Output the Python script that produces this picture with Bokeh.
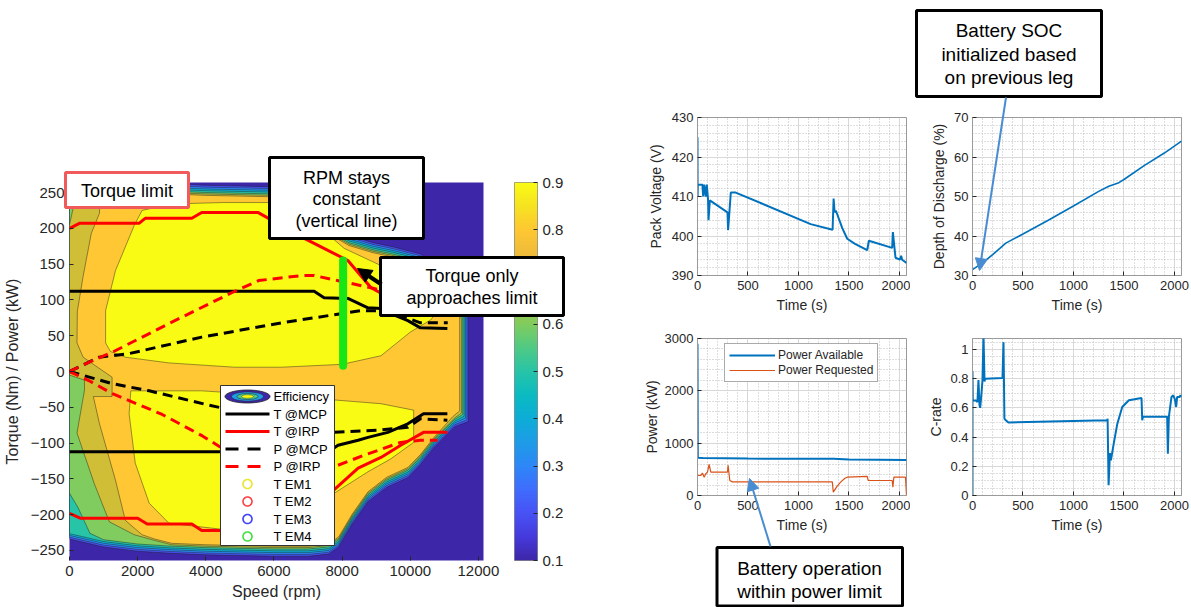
import math
from bokeh.plotting import figure
from bokeh.models import (Range1d, FixedTicker, LinearColorMapper, ColorBar, Label,
                          BoxAnnotation, Arrow, NormalHead, PolyAnnotation, Legend, LegendItem,
                          CustomJSTickFormatter, GridBox)
from bokeh.layouts import row, column
from bokeh.embed import file_html
from bokeh.resources import INLINE

FONT = "Liberation Sans"
TXT = "#262626"
PAGE_W, PAGE_H = 1191, 607

# ---------------- efficiency map : axes ----------------
SPEED_RANGE = (0, 12150)
TORQUE_RANGE = (-264, 264)
SPEED_TICKS = [0, 2000, 4000, 6000, 8000, 10000, 12000]
TORQUE_TICKS = [-250, -200, -150, -100, -50, 0, 50, 100, 150, 200, 250]
EFF_TICKS = [0.1, 0.2, 0.3, 0.4, 0.5, 0.6, 0.7, 0.8, 0.9]

# ---------------- efficiency map : contour regions (speed rpm, torque Nm) ----------------
ENV_TOP_SPEED = [0, 1000, 2000, 3000, 4000, 5000, 6000, 6600, 7200, 7770, 8200, 8900, 9500, 10300, 10900, 11400, 11700]
ENV_TOP_TORQUE = [262, 262, 262, 262, 260, 259, 258, 252, 236, 202, 190, 180, 174, 164, 140, 110, 85]
ENV_BOT_SPEED = [0, 1000, 2000, 3000, 4000, 5000, 6000, 7000, 7600, 7900, 8300, 8760, 9300, 9930, 10300, 10700, 11300, 11700]
ENV_BOT_TORQUE = [-234, -245, -251, -254, -256, -257, -258, -258, -255, -245, -213, -182, -162, -148, -130, -106, -77, -70]

BAND_LEVELS = [0.2, 0.3, 0.4, 0.5]
BAND_INSET_TORQUE = [0, 2.5, 5, 7.5]
BAND_INSET_SPEED = [0, 40, 80, 120]

GREEN_INSET = (10, 160)
GREEN_LEFT_SPEED = [600, 250, 0]
GREEN_LEFT_TORQUE = [-226, -190, -170]

OLIVE_INSET = (12, 200)
OLIVE_LEFT_SPEED = [2500, 1900, 1170, 730, 220, 440, 440, 0, 0, 200]
OLIVE_LEFT_TORQUE = [-236, -228, -210, -157, -86, -26, -12, -5, 205, 248]

ORANGE_SPEED = [900, 2000, 3000, 4000, 5000, 6000, 6600, 7200, 7770, 8200, 8900, 9500, 10300, 10900, 11400, 11450,
                11450, 11250, 10700, 10300, 9930, 9300, 8760, 8300, 7900, 7600, 7000, 6000, 5000, 4000, 3000,
                2500, 2130, 1640, 1350, 880, 700, 1250, 1250, 400, 220, 230, 400, 640, 880]
ORANGE_TORQUE = [246, 248, 248, 246, 245, 244, 238, 222, 188, 176, 166, 160, 150, 126, 96, 80,
                 -55, -63, -92, -116, -134, -148, -168, -199, -231, -241, -244, -244, -243, -242, -240,
                 -234, -228, -208, -152, -73, -35, -35, -8, 20, 40, 84, 133, 193, 221]

YELLOW_UP_SPEED = [1060, 1060, 1350, 1900, 2130, 3000, 4500, 6000, 6900, 7500, 8060, 8600, 9140, 10000, 10600,
                   10800, 10600, 10000, 9140, 8000, 6220, 4850, 2920, 1640, 1200]
YELLOW_UP_TORQUE = [40, 85, 141, 204, 225, 234, 236, 236, 215, 195, 172, 160, 148, 120, 96,
                    85, 72, 55, 22, 10, 6, 6, 12, 20, 28]
YELLOW_LO_SPEED = [1800, 3880, 6800, 9140, 10100, 10100, 9430, 8760, 7770, 7000, 6000, 4400, 2920, 2340, 1930, 1750]
YELLOW_LO_TORQUE = [-27, -27, -36, -45, -54, -99, -122, -140, -170, -195, -212, -220, -212, -184, -128, -59]

# ---------------- efficiency map : operating lines ----------------
T_MCP_UP_SPEED = [0, 7180, 7470, 8170, 8760, 9140, 9430, 9930, 10300, 11090]
T_MCP_UP = [112, 112, 103, 102, 89, 88, 81, 71, 61, 60]
T_MCP_LO_SPEED = [0, 7600, 7880, 8470, 8760, 9340, 9930, 10390, 11090]
T_MCP_LO = [-112, -112, -103, -96, -92, -85, -73, -59, -59]
T_IRP_UP_SPEED = [0, 290, 2040, 2220, 3590, 3880, 5540, 6890, 8170, 8850, 9500, 10300, 11000]
T_IRP_UP = [200, 207, 207, 214, 214, 222, 222, 186, 155, 117, 100, 85, 85]
T_IRP_LO_SPEED = [0, 330, 2000, 2280, 3590, 3880, 5300, 6500, 7770, 8470, 9140, 9720, 10390, 11090]
T_IRP_LO = [-198, -205, -205, -213, -213, -222, -222, -198, -165, -135, -120, -103, -85, -85]
P_MCP_UP_SPEED = [0, 870, 1750, 3880, 6220, 8550, 9300, 10300, 11100]
P_MCP_UP = [0, 20, 25, 48, 68, 85, 85, 68, 68]
P_IRP_UP_SPEED = [0, 670, 1260, 2920, 4760, 5550, 6800, 7180, 8850, 9600]
P_IRP_UP = [0, 15, 27, 67, 110, 127, 134, 134, 117, 108]
P_MCP_LO_SPEED = [0, 1260, 2340, 4090, 7770, 9050, 9930, 10300, 11090]
P_MCP_LO = [0, -17, -27, -47, -85, -82, -78, -66, -68]
P_IRP_LO_SPEED = [0, 580, 1260, 2720, 3900, 4410, 7880, 8640, 9720, 10300, 10800]
P_IRP_LO = [0, -13, -31, -60, -90, -105, -131, -117, -99, -96, -96]
RPM_CONST_SPEED = 8030
RPM_CONST_TORQUE = [8, 155]

LEGEND_LABELS = ["Efficiency", "T @MCP", "T @IRP", "P @MCP", "P @IRP", "T EM1", "T EM2", "T EM3", "T EM4"]

# ---------------- battery time series ----------------
T_MAX = 2070
TIME_TICKS = [0, 500, 1000, 1500, 2000]
TIME_MINOR = [t for t in range(0, 2100, 100) if t % 500]

V_TIME = [0, 1, 3, 49, 56, 66, 82, 92, 105, 109, 122, 297, 303, 330, 379, 1121, 1338, 1348, 1358, 1371,
          1434, 1483, 1560, 1681, 1697, 1928, 1935, 1961, 2004, 2017, 2027, 2070]
V_PACK = [425, 410, 413, 413, 410, 413, 410, 413, 409, 404, 409, 406, 401.5, 411, 411, 403, 401.6, 409.5, 406, 406.4,
          402, 399.3, 398, 396.4, 398.8, 397, 401, 394.5, 394, 395, 394, 393.2]
V_TICKS = [390, 400, 410, 420, 430]

DOD_TIME = [0, 100, 200, 330, 500, 750, 1000, 1250, 1350, 1450, 1500, 1700, 1900, 2070]
DOD = [31.5, 33.2, 35.3, 38.2, 40.5, 44.0, 47.6, 51.3, 52.6, 53.5, 54.3, 57.8, 61.0, 64.0]
DOD_TICKS = [30, 40, 50, 60, 70]

PA_TIME = [0, 3, 50, 500, 1000, 1350, 1500, 2070]
P_AVAIL = [2900, 720, 715, 705, 700, 700, 690, 680]
PR_TIME = [0, 33, 49, 66, 82, 99, 115, 132, 297, 303, 320, 346, 1335, 1345, 1380, 1420, 1460, 1483, 1681, 1691,
           1928, 1935, 1945, 2060, 2070]
P_REQ = [383, 383, 428, 350, 415, 447, 594, 447, 447, 575, 287, 260, 260, 64, 170, 260, 330, 350, 364, 287,
         287, 160, 350, 350, 0]
P_TICKS = [0, 1000, 2000, 3000]

C_TIME = [0, 0, 3, 33, 49, 59, 69, 76, 86, 99, 109, 119, 125, 297, 307, 316, 330, 356, 1335, 1338,
          1348, 1361, 1371, 1400, 1434, 1483, 1549, 1674, 1681, 1688, 1928, 1935, 1945, 1971, 1988, 2004,
          2017, 2027, 2050, 2060, 2070]
C_RATE = [0, 0.85, 0.65, 0.65, 0.64, 0.79, 0.62, 0.60, 0.675, 0.79, 1.10, 0.78, 0.80, 0.805, 1.05, 0.526,
          0.515, 0.50, 0.515, 0.526, 0.07, 0.29, 0.24, 0.36, 0.49, 0.606, 0.652, 0.668, 0.515, 0.54, 0.54,
          0.286, 0.54, 0.675, 0.686, 0.66, 0.606, 0.675, 0.675, 0.686, 0.675]
C_TICKS = [0, 0.2, 0.4, 0.6, 0.8, 1]

# ---------------- colours ----------------
PARULA = [
    (0.000, (0.2422, 0.1504, 0.6603)), (0.0625, (0.2717, 0.2298, 0.8664)),
    (0.125, (0.2810, 0.3228, 0.9579)), (0.1875, (0.2475, 0.4263, 0.9955)),
    (0.250, (0.1801, 0.5302, 0.9687)), (0.3125, (0.1134, 0.6122, 0.9074)),
    (0.375, (0.0518, 0.6784, 0.8406)), (0.4375, (0.0402, 0.7321, 0.7589)),
    (0.500, (0.1520, 0.7680, 0.6560)), (0.5625, (0.3110, 0.7900, 0.5200)),
    (0.625, (0.5000, 0.8000, 0.3700)), (0.6875, (0.6700, 0.7800, 0.2600)),
    (0.750, (0.8200, 0.7450, 0.2150)), (0.8125, (0.9400, 0.7350, 0.2300)),
    (0.875, (0.9950, 0.7800, 0.2000)), (0.9375, (0.9650, 0.8850, 0.1300)),
    (1.000, (0.9769, 0.9839, 0.0805)),
]


def parula(n):
    n = min(max(n, 0.0), 1.0)
    for (a, ca), (b, cb) in zip(PARULA[:-1], PARULA[1:]):
        if n <= b:
            f = (n - a) / (b - a) if b > a else 0
            c = [ca[i] + f * (cb[i] - ca[i]) for i in range(3)]
            return "#%02x%02x%02x" % tuple(int(round(v * 255)) for v in c)
    c = PARULA[-1][1]
    return "#%02x%02x%02x" % tuple(int(round(v * 255)) for v in c)


def level_color(lv):
    return parula((lv - 0.1) / 0.8)


# ---------------- helpers ----------------
def inset_poly(dt, ds, top_min=None, bot_min=None):
    top = [(s, t - dt) for s, t in zip(ENV_TOP_SPEED[:-1], ENV_TOP_TORQUE[:-1])]
    if top_min is not None:
        top = [pt for pt in top if pt[0] >= top_min]
    right = [(ENV_TOP_SPEED[-1] - ds, ENV_TOP_TORQUE[-1] - dt), (ENV_BOT_SPEED[-1] - ds, ENV_BOT_TORQUE[-1] + dt)]
    bot = [(s, t + dt) for s, t in zip(ENV_BOT_SPEED[-2::-1], ENV_BOT_TORQUE[-2::-1])]
    if bot_min is not None:
        bot = [pt for pt in bot if pt[0] >= bot_min]
    return top + right + bot


def style_axis(ax, tick_size, label_size, tick_standoff, label_standoff):
    ax.axis_label_text_font = FONT
    ax.axis_label_text_font_size = f"{label_size}px"
    ax.axis_label_text_font_style = "normal"
    ax.axis_label_text_color = TXT
    ax.axis_label_standoff = label_standoff
    ax.major_label_text_font = FONT
    ax.major_label_text_font_size = f"{tick_size}px"
    ax.major_label_text_color = TXT
    ax.major_label_standoff = tick_standoff
    ax.major_tick_in = 4
    ax.major_tick_out = 0
    ax.minor_tick_in = 0
    ax.minor_tick_out = 0
    ax.major_tick_line_color = TXT


def fr_text(fig, fl, fb, X, Y, text, size, align="center", color="black"):
    fig.add_layout(Label(x=X - fl, y=fb - Y, x_units="screen", y_units="screen", text=text,
                         text_align=align, text_baseline="middle", text_font=FONT,
                         text_font_size=f"{size}px", text_color=color, level="overlay"))


def fr_box(fig, fl, fb, X0, Y0, X1, Y1, color, lw):
    fig.add_layout(BoxAnnotation(left=X0 - fl, right=X1 - fl, top=fb - Y0, bottom=fb - Y1,
                                 left_units="screen", right_units="screen",
                                 top_units="screen", bottom_units="screen",
                                 fill_color="white", fill_alpha=1.0, line_color=color,
                                 line_width=lw, line_alpha=1.0, level="overlay"))


def fr_line_icon(fig, fl, fb, X0, X1, Y, color, dash):
    fig.add_layout(Arrow(x_start=X0 - fl, y_start=fb - Y, x_end=X1 - fl, y_end=fb - Y,
                         start_units="screen", end_units="screen", line_color=color, line_width=3,
                         line_dash=dash, start=None, end=None, level="overlay"))


def fr_ellipse(fig, fl, fb, CX, CY, rx, ry, fill, line, lw):
    xs, ys = [], []
    for k in range(40):
        a = 2 * math.pi * k / 40
        xs.append(CX + rx * math.cos(a) - fl)
        ys.append(fb - (CY + ry * math.sin(a)))
    fig.add_layout(PolyAnnotation(xs=xs, ys=ys, xs_units="screen", ys_units="screen",
                                  fill_color=fill if fill else "white", fill_alpha=1.0 if fill else 0.0,
                                  line_color=line, line_width=lw, line_alpha=1.0, level="overlay"))


# ================= LEFT : efficiency map =================
FL, FB = 67, 560
p = figure(width=640, height=607, x_range=Range1d(*SPEED_RANGE), y_range=Range1d(*TORQUE_RANGE),
           output_backend="svg", toolbar_location=None,
           min_border_left=67, min_border_right=157, min_border_top=182, min_border_bottom=47)
p.background_fill_color = level_color(0.1)
p.border_fill_color = "white"
p.outline_line_color = None
p.grid.visible = False
p.xaxis.ticker = FixedTicker(ticks=SPEED_TICKS)
p.yaxis.ticker = FixedTicker(ticks=TORQUE_TICKS)
p.xaxis.axis_label = "Speed (rpm)"
p.yaxis.axis_label = "Torque (Nm) / Power (kW)"
style_axis(p.xaxis[0], 15, 16, 5, 4)
style_axis(p.yaxis[0], 15, 16, 5, 7)
p.xaxis.axis_line_color = None
p.yaxis.axis_line_color = None

polys, cols = [], []
for lv, dt, ds in zip(BAND_LEVELS, BAND_INSET_TORQUE, BAND_INSET_SPEED):
    polys.append(inset_poly(dt, ds))
    cols.append(level_color(lv))
polys.append(inset_poly(*GREEN_INSET, bot_min=1000) + list(zip(GREEN_LEFT_SPEED, GREEN_LEFT_TORQUE)))
cols.append(level_color(0.6))
polys.append(inset_poly(*OLIVE_INSET, top_min=1000, bot_min=3000) + list(zip(OLIVE_LEFT_SPEED, OLIVE_LEFT_TORQUE)))
cols.append(level_color(0.7))
polys.append(list(zip(ORANGE_SPEED, ORANGE_TORQUE)))
cols.append(level_color(0.8))
polys.append(list(zip(YELLOW_UP_SPEED, YELLOW_UP_TORQUE)))
cols.append(level_color(0.9))
polys.append(list(zip(YELLOW_LO_SPEED, YELLOW_LO_TORQUE)))
cols.append(level_color(0.9))

p.patches(xs=[[pt[0] for pt in poly] for poly in polys], ys=[[pt[1] for pt in poly] for poly in polys],
          fill_color=cols, line_color="#1e1e1e", line_width=0.6, line_alpha=0.75)

DASH = "10 6"
p.line(T_MCP_UP_SPEED, T_MCP_UP, line_color="black", line_width=3)
p.line(T_MCP_LO_SPEED, T_MCP_LO, line_color="black", line_width=3)
p.line(T_IRP_UP_SPEED, T_IRP_UP, line_color="#ff0000", line_width=3)
p.line(T_IRP_LO_SPEED, T_IRP_LO, line_color="#ff0000", line_width=3)
p.line(P_MCP_UP_SPEED, P_MCP_UP, line_color="black", line_width=3, line_dash=DASH)
p.line(P_MCP_LO_SPEED, P_MCP_LO, line_color="black", line_width=3, line_dash=DASH)
p.line(P_IRP_UP_SPEED, P_IRP_UP, line_color="#ff0000", line_width=3, line_dash=DASH)
p.line(P_IRP_LO_SPEED, P_IRP_LO, line_color="#ff0000", line_width=3, line_dash=DASH)
p.line([RPM_CONST_SPEED, RPM_CONST_SPEED], RPM_CONST_TORQUE, line_color="#16e616", line_width=8,
       line_cap="round")

mapper = LinearColorMapper(palette=[parula(i / 255) for i in range(256)], low=0.1, high=0.9)
cb = ColorBar(color_mapper=mapper, location=(445, 0), width=23, height=378, padding=0,
              ticker=FixedTicker(ticks=EFF_TICKS), major_label_text_font=FONT,
              major_label_text_font_size="15px", major_label_text_color=TXT, label_standoff=5,
              major_tick_in=4, major_tick_out=0, major_tick_line_color=TXT,
              bar_line_color="#555555", bar_line_width=0.5, border_line_color=None,
              background_fill_alpha=0)
p.add_layout(cb, "center")

# legend of the map (inside the frame)
fr_box(p, FL, FB, 218, 385, 332, 545, "#333333", 1)
rows_y = [396 + 17.5 * i for i in range(9)]
fr_ellipse(p, FL, FB, 245, rows_y[0], 22.5, 6.5, level_color(0.1), "#222222", 0.8)
fr_ellipse(p, FL, FB, 245, rows_y[0], 16, 4.6, level_color(0.35), "#222222", 0.5)
fr_ellipse(p, FL, FB, 245, rows_y[0], 10.5, 3.0, level_color(0.55), "#222222", 0.5)
fr_ellipse(p, FL, FB, 245, rows_y[0], 6, 1.7, level_color(0.9), "#222222", 0.4)
fr_line_icon(p, FL, FB, 223, 267, rows_y[1], "black", "solid")
fr_line_icon(p, FL, FB, 223, 267, rows_y[2], "#ff0000", "solid")
fr_line_icon(p, FL, FB, 223, 267, rows_y[3], "black", "13 9")
fr_line_icon(p, FL, FB, 223, 267, rows_y[4], "#ff0000", "13 9")
for yy, c in zip(rows_y[5:], ["#e6e633", "#ff4040", "#4040ff", "#40e040"]):
    fr_ellipse(p, FL, FB, 245, yy, 4.5, 4.5, None, c, 1.6)
for yy, lab in zip(rows_y, LEGEND_LABELS):
    fr_text(p, FL, FB, 271, yy, lab, 13, align="left")


# ================= RIGHT : battery plots =================
def ts_fig(w, h, bl, br, bt, bb, y_lo, y_hi, y_ticks, y_minor, y_label, lab_std):
    f = figure(width=w, height=h, x_range=Range1d(0, T_MAX), y_range=Range1d(y_lo, y_hi),
               output_backend="svg", toolbar_location=None,
               min_border_left=bl, min_border_right=br, min_border_top=bt, min_border_bottom=bb)
    f.xaxis.ticker = FixedTicker(ticks=TIME_TICKS, minor_ticks=TIME_MINOR)
    f.yaxis.ticker = FixedTicker(ticks=y_ticks, minor_ticks=y_minor)
    f.xaxis.axis_label = "Time (s)"
    f.yaxis.axis_label = y_label
    style_axis(f.xaxis[0], 13, 14, 5, 4)
    style_axis(f.yaxis[0], 13, 14, 4, lab_std)
    f.xaxis.axis_line_color = "#9a9a9a"
    f.yaxis.axis_line_color = "#9a9a9a"
    f.outline_line_color = "#9a9a9a"
    f.outline_line_alpha = 1.0
    for g in (f.xgrid[0], f.ygrid[0]):
        g.grid_line_color = "#d8d8d8"
        g.minor_grid_line_color = "#bdbdbd"
        g.minor_grid_line_dash = "1 2"
    f.border_fill_color = "white"
    return f


BLUE = "#0072bd"
ORANGE = "#d95319"

tl = ts_fig(270, 318, 57, 4, 117, 43, 390, 430, V_TICKS, [v for v in range(390, 431, 2) if v % 10],
            "Pack Voltage (V)", 5)
tl.line(V_TIME, V_PACK, line_color=BLUE, line_width=2)

tr = ts_fig(281, 318, 62, 10, 117, 43, 30, 70, DOD_TICKS, [v for v in range(30, 71, 2) if v % 10],
            "Depth of Discharge (%)", 4)
tr.line(DOD_TIME, DOD, line_color=BLUE, line_width=1.6)

bl = ts_fig(270, 289, 57, 4, 20, 112, 0, 3000, P_TICKS, [v for v in range(0, 3001, 200) if v % 1000],
            "Power (kW)", 2)
r_av = bl.line(PA_TIME, P_AVAIL, line_color=BLUE, line_width=2)
r_rq = bl.line(PR_TIME, P_REQ, line_color=ORANGE, line_width=1.2)
leg = Legend(items=[LegendItem(label="Power Available", renderers=[r_av]),
                    LegendItem(label="Power Requested", renderers=[r_rq])],
             location=(27, 113), label_text_font=FONT, label_text_font_size="12px",
             label_text_color=TXT, glyph_width=46, glyph_height=14, label_height=14,
             label_standoff=3, spacing=1, padding=4, margin=0,
             border_line_color="#555555", border_line_width=1, background_fill_alpha=1.0)
bl.add_layout(leg, "center")

br = ts_fig(281, 289, 62, 10, 20, 112, 0, 1.075, C_TICKS,
            [v / 100 for v in range(0, 106, 5) if v % 20], "C-rate", 3)
br.yaxis.formatter = CustomJSTickFormatter(code="return String(Math.round(tick * 10) / 10);")
br.line(C_TIME, C_RATE, line_color=BLUE, line_width=2)

main = row(p, column(row(tl, tr), row(bl, br)))

# ================= overlay for the call-outs (page pixel coordinates) =================
ov = figure(width=PAGE_W, height=PAGE_H, x_range=Range1d(0, PAGE_W), y_range=Range1d(0, PAGE_H),
            output_backend="svg", toolbar_location=None, x_axis_location=None, y_axis_location=None,
            min_border=0, min_border_left=0, min_border_right=0, min_border_top=0, min_border_bottom=0)
ov.grid.visible = False
ov.outline_line_color = None
ov.background_fill_alpha = 0
ov.border_fill_alpha = 0


def ov_box(X0, Y0, X1, Y1, color, lw):
    ov.add_layout(BoxAnnotation(left=X0, right=X1, top=PAGE_H - Y0, bottom=PAGE_H - Y1,
                                fill_color="white", fill_alpha=1.0, line_color=color,
                                line_width=lw, line_alpha=1.0, level="overlay"))


def ov_text(X, Y, text, size):
    ov.add_layout(Label(x=X, y=PAGE_H - Y, text=text, text_align="center", text_baseline="middle",
                        text_font=FONT, text_font_size=f"{size}px", text_color="black", level="overlay"))


def ov_arrow(X0, Y0, X1, Y1, color, lw, head):
    ov.add_layout(Arrow(x_start=X0, y_start=PAGE_H - Y0, x_end=X1, y_end=PAGE_H - Y1,
                        line_color=color, line_width=lw,
                        end=NormalHead(size=head, fill_color=color, line_color=color, line_width=1),
                        level="overlay"))


ov_box(65, 172, 188, 207, "#f05a5a", 3)
ov_text(126.5, 190, "Torque limit", 18)
ov_box(269, 157, 423, 238, "black", 3)
ov_text(346, 177, "RPM stays", 18)
ov_text(346, 198.5, "constant", 18)
ov_text(346, 220, "(vertical line)", 18)
ov_box(380, 257, 563, 315, "black", 3)
ov_text(471.5, 275, "Torque only", 18)
ov_text(471.5, 297, "approaches limit", 18)
ov_arrow(381, 284, 357, 268, "black", 4, 14)

ov_box(916, 10, 1101, 96, "black", 3)
ov_text(1008.5, 30, "Battery SOC", 19)
ov_text(1008.5, 53.5, "initialized based", 19)
ov_text(1008.5, 77, "on previous leg", 19)
ov_arrow(1005.5, 97, 979, 270, "#4a8cd2", 2, 12)

ov_box(716.5, 547, 902, 605.5, "black", 3)
ov_text(809, 568, "Battery operation", 19)
ov_text(809, 590.5, "within power limit", 19)
ov_arrow(770, 546, 749, 478, "#4a8cd2", 2, 12)

root = GridBox(children=[(main, 0, 0), (ov, 0, 0)])
open("out.html", "w").write(file_html(root, INLINE))
